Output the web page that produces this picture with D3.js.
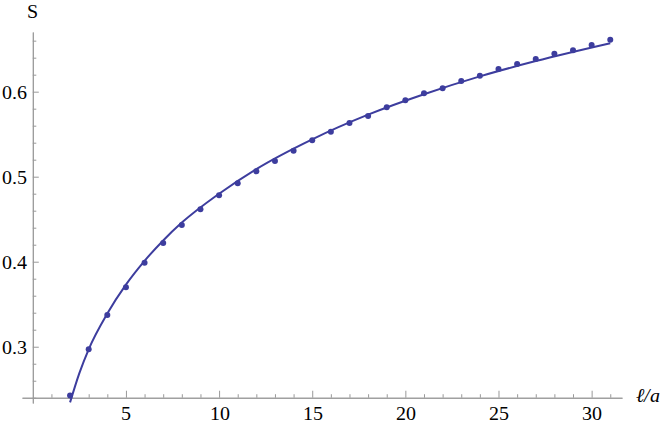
<!DOCTYPE html>
<html>
<head>
<meta charset="utf-8">
<script src="https://cdn.jsdelivr.net/npm/d3@7"></script>
<style>
  @font-face { font-family: "ChartSerif"; src: local("Liberation Serif"), local("LiberationSerif"), local("Times New Roman"), local("Tinos"), local("FreeSerif"); font-style: normal; }
  @font-face { font-family: "ChartSerif"; src: local("Liberation Serif Italic"), local("LiberationSerif-Italic"), local("Times New Roman Italic"), local("FreeSerif Italic"); font-style: italic; }
</style>
</head>
<body style="margin:0">
<script>
// chart size
const w = 664;
const h = 426;
const FONT = "ChartSerif, 'Liberation Serif', 'Times New Roman', FreeSerif, serif";

// data points (l/a, S)
const ell = [2, 3, 4, 5, 6, 7, 8, 9, 10, 11, 12, 13, 14, 15, 16,
  17, 18, 19, 20, 21, 22, 23, 24, 25, 26, 27, 28, 29, 30, 31];
const entropy = [0.2425, 0.297, 0.3373, 0.370, 0.3988, 0.422, 0.4432, 0.4616, 0.4781, 0.4922,
  0.5064, 0.5185, 0.5306, 0.5428, 0.5529, 0.5631, 0.5714, 0.5816, 0.5899, 0.5981,
  0.604, 0.6126, 0.6188, 0.6267, 0.6326, 0.6385, 0.6447, 0.6487, 0.6549, 0.6612];

// fitted curve
const fitX = [2, 2.5, 3, 4, 5, 6, 7, 8, 10, 12, 15, 18, 21, 24, 27, 31];
const fitS = [0.2345, 0.269, 0.297, 0.339, 0.373, 0.401, 0.425, 0.446, 0.480, 0.509,
  0.544, 0.573, 0.597, 0.618, 0.636, 0.657];

const xMajor = [5, 10, 15, 20, 25, 30];
const yMajor = [0.3, 0.4, 0.5, 0.6];

const blue = "#3d3d9e";
const grey = "#999";

let svg = d3.select("body")
  .append("svg")
  .attr("width", w)
  .attr("height", h);

// scales set so the ticks land where the original has them
let xScale = d3.scaleLinear().domain([-0.58, 31.63]).range([22, 622]);
let yScale = d3.scaleLinear().domain([0.2338, 0.6702]).range([403, 32]);

const xAxisY = yScale(0.24);
const yAxisX = xScale(0);

// minor ticks
const xMinor = d3.range(1, 32).filter(v => v % 5 !== 0);
const yMinor = d3.range(12, 34).map(v => v / 50).filter(v => Math.round(v * 100) % 10 !== 0);

function styleAxis(g) {
  g.attr("font-family", null).attr("font-size", null);
  g.select(".domain").attr("stroke", grey);
  g.selectAll(".tick line").attr("stroke", grey);
}

// x axis
svg.append("g")
  .attr("transform", "translate(0," + xAxisY + ")")
  .call(d3.axisBottom(xScale).tickValues(xMinor).tickSizeInner(-3.5).tickSizeOuter(0).tickFormat(""))
  .call(styleAxis);

svg.append("g")
  .attr("transform", "translate(0," + xAxisY + ")")
  .call(d3.axisBottom(xScale).tickValues(xMajor).tickSizeInner(-7).tickSizeOuter(0).tickPadding(8).tickFormat(d3.format("d")))
  .call(styleAxis);

// y axis
svg.append("g")
  .attr("transform", "translate(" + yAxisX + ",0)")
  .call(d3.axisLeft(yScale).tickValues(yMinor).tickSizeInner(-3.5).tickSizeOuter(0).tickFormat(""))
  .call(styleAxis);

svg.append("g")
  .attr("transform", "translate(" + yAxisX + ",0)")
  .call(d3.axisLeft(yScale).tickValues(yMajor).tickSizeInner(-6).tickSizeOuter(0).tickPadding(5.5).tickFormat(d3.format(".1f")))
  .call(styleAxis);

// axis labels
svg.append("text")
  .attr("x", yAxisX)
  .attr("y", 18)
  .attr("text-anchor", "middle")
  .text("S");

svg.append("text")
  .attr("x", 636)
  .attr("y", 402)
  .style("font-style", "italic")
  .text("ℓ/a");

// every label in the serif face (inline style wins over attributes)
svg.selectAll("text")
  .style("font-family", FONT)
  .style("font-size", "20px")
  .attr("fill", "#000");

// fitted line
let line = d3.line()
  .x((d, i) => xScale(fitX[i]))
  .y(d => yScale(d))
  .curve(d3.curveMonotoneX);

svg.append("path")
  .datum(fitS)
  .attr("d", line)
  .attr("fill", "none")
  .attr("stroke", blue)
  .attr("stroke-width", 2);

// data points
svg.selectAll("circle.pt")
  .data(entropy)
  .enter()
  .append("circle")
  .attr("class", "pt")
  .attr("cx", (d, i) => xScale(ell[i]))
  .attr("cy", d => yScale(d))
  .attr("r", 3)
  .attr("fill", blue);
</script>
</body>
</html>
